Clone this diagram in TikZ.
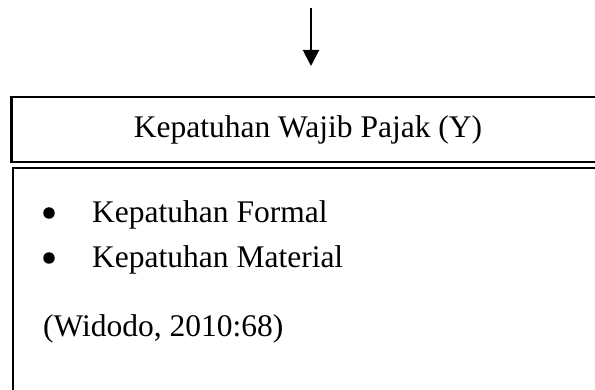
\documentclass[tikz,border=0pt]{standalone}
\usepackage{fontspec}
\setmainfont{Liberation Serif}
\usetikzlibrary{arrows.meta}
\usetikzlibrary{shapes}

\begin{document}
\begin{tikzpicture}[x = 1pt, y = -1pt, font=\fontsize{31.5}{36}\selectfont]
\tikzstyle{boxStyle}=[shape = rectangle, draw, line width = 2.2pt, minimum width = 593pt, inner sep = 0pt]
\tikzstyle{textStyle}=[anchor = base west, inner sep = 0pt]
\tikzstyle{bulletStyle}=[shape = circle, minimum size = 11.5pt, inner sep = 0pt, fill]
\tikzstyle{arrowStyle}=[line width = 2pt, -{Triangle[width = 16pt, length = 16pt]}]
\useasboundingbox (0,0) rectangle (595,390);
\clip (0,0) rectangle (595,390);
\coordinate (a0) at (311,8);
\coordinate (a1) at (311,66);
\node[style = boxStyle, minimum height = 65pt] (hdr) at (308,129.5) {Kepatuhan Wajib Pajak (Y)};
\node[style = boxStyle, minimum height = 260pt, anchor = north west] (body) at (11.5,167) {};
\node[style = bulletStyle] (b1) at (49,213) {};
\node[style = textStyle] (i1) at (92,223) {Kepatuhan Formal};
\node[style = bulletStyle] (b2) at (49,258) {};
\node[style = textStyle] (i2) at (92,268) {Kepatuhan Material};
\node[style = textStyle] (src) at (43,337) {(Widodo, 2010:68)};
\draw[style = arrowStyle] (a0) -- (a1);
\end{tikzpicture}
\end{document}
